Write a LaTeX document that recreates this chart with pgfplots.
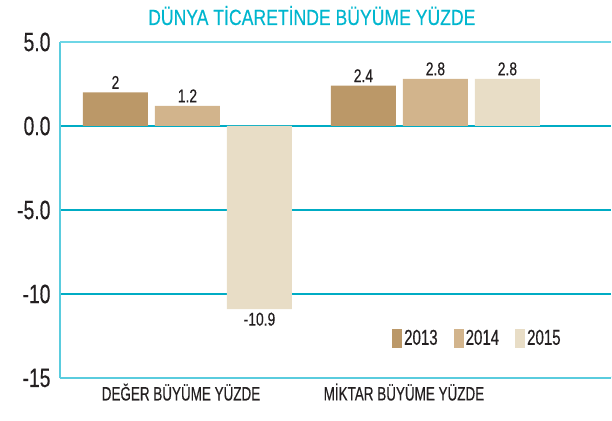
\documentclass[border=0pt]{standalone}
\usepackage{pgfplots}
\pgfplotsset{compat=1.18}
\usepackage{fontspec}
\setmainfont{Liberation Sans}[FakeStretch=0.8, FakeBold=0.3]
\newfontfamily\tickfont{Liberation Sans}[FakeStretch=0.73, FakeBold=0.3]
\newfontfamily\catfont{Liberation Sans}[FakeStretch=0.69, FakeBold=0.3]
\newfontfamily\legfont{Liberation Sans}[FakeStretch=0.7, FakeBold=0.3]
\newfontfamily\valfont{Liberation Sans}[FakeStretch=0.75, FakeBold=0.3]

\definecolor{TitleCyan}{RGB}{0,182,206}
\definecolor{GridTeal} {RGB}{0,172,196}
\definecolor{AxisCyan} {RGB}{90,204,222}
\definecolor{TopCyan}  {RGB}{110,214,230}
\definecolor{TextDark} {RGB}{35,31,32}
\definecolor{Y2013}    {RGB}{187,152,104}
\definecolor{Y2014}    {RGB}{210,180,140}
\definecolor{Y2015}    {RGB}{232,221,198}

\begin{document}
\begin{tikzpicture}
\path[use as bounding box] (0,0) rectangle (612pt,420pt);
\begin{axis}[
    at={(60pt,42pt)}, anchor=south west,
    width=551pt, height=336pt, scale only axis,
    ybar, bar width=65pt,
    xmin=-0.514, xmax=1.708,
    ymin=-15, ymax=5,
    axis x line=bottom, axis y line=left,
    axis line style={-, draw=AxisCyan, line width=1.3pt},
    ytick={-15,-10,-5,0},
    yticklabels={-15,-10,-5.0,0.0},
    extra y ticks={5},
    extra y tick labels={5.0},
    extra y tick style={grid style={draw=TopCyan, line width=1.2pt}},
    ymajorgrids,
    grid style={draw=GridTeal, line width=1.6pt},
    major tick length=0pt,
    yticklabel style={font=\tickfont\fontsize{26.5}{30}\selectfont, text=TextDark, xshift=-6pt},
    xtick={-0.026,0.873},
    xticklabels={DEĞER BÜYÜME YÜZDE, MİKTAR BÜYÜME YÜZDE},
    xticklabel style={font=\catfont\fontsize{19.5}{22}\selectfont, text=TextDark, yshift=-2pt},
    title={DÜNYA TİCARETİNDE BÜYÜME YÜZDE},
    title style={at={(0.457,1)}, anchor=base, yshift=11pt,
        font=\fontsize{22}{26}\selectfont, text=TitleCyan},
    point meta=y,
    nodes near coords={\pgfmathprintnumber[assume math mode=true]{\pgfplotspointmeta}},
    every node near coord/.append style={font=\valfont\fontsize{18.5}{22}\selectfont, text=TextDark},
    legend columns=3,
    legend style={at={(0.6025,0.119)}, anchor=west, draw=none, fill=none,
        inner sep=0pt, font=\legfont\fontsize{21.5}{24}\selectfont, text=TextDark,
        nodes={inner sep=2pt},
        /tikz/every even column/.append style={column sep=14pt}},
    legend image code/.code={\fill[#1] (0pt,-9.5pt) rectangle (10pt,9.5pt);},
]
\addplot[fill=Y2013, draw=none, bar shift=-72pt] coordinates {
    (0,2)
    (1,2.4)
};
\addlegendentry{2013}
\addplot[fill=Y2014, draw=none, bar shift=0pt] coordinates {
    (0,1.2)
    (1,2.8)
};
\addlegendentry{2014}
\addplot[fill=Y2015, draw=none, bar shift=72pt] coordinates {
    (0,-10.9)
    (1,2.8)
};
\addlegendentry{2015}
\draw[AxisCyan, line width=1.3pt] (rel axis cs:1,0) -- ++(0,6pt);
\end{axis}
\end{tikzpicture}
\end{document}
